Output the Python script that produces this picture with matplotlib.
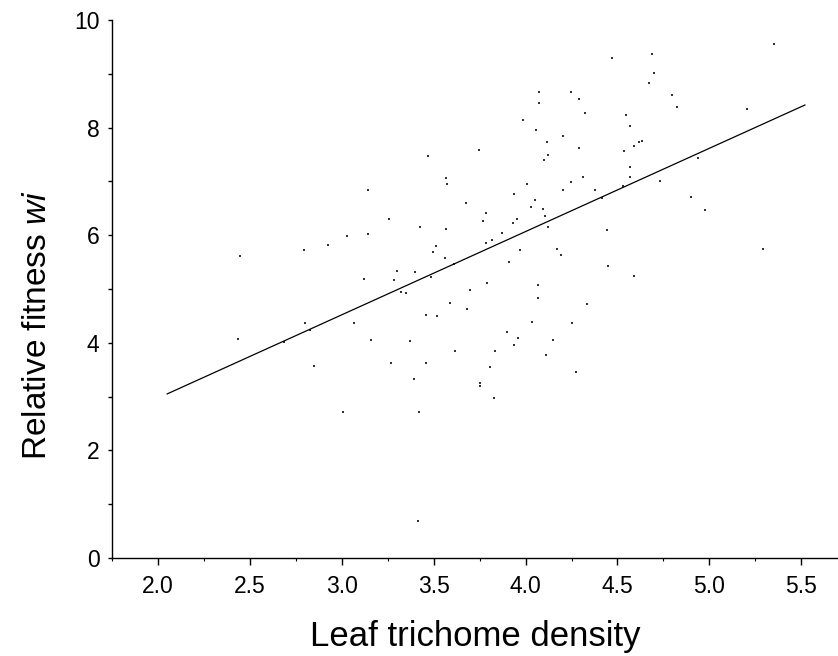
import matplotlib
matplotlib.use("Agg")
import matplotlib.pyplot as plt
from matplotlib.ticker import MultipleLocator

plt.rcParams["font.family"] = ["Liberation Sans", "DejaVu Sans"]
plt.rcParams["mathtext.fontset"] = "custom"
plt.rcParams["mathtext.rm"] = "Liberation Sans"
plt.rcParams["mathtext.it"] = "Liberation Sans:italic"

# leaf trichome density vs relative fitness
density = [
    3.145, 3.257, 3.027, 3.140, 2.924, 2.795, 2.446, 3.300, 3.123, 3.284,
    3.320, 3.348, 2.436, 2.800, 2.828, 2.686, 3.069, 3.161, 3.371, 2.850,
    3.268, 3.391, 3.005,
    4.074, 4.074, 4.246, 4.293, 4.326, 3.987, 4.058, 4.203, 4.118, 4.293,
    4.121, 4.100, 3.471, 3.746, 3.569, 3.574, 4.009, 4.246, 4.311, 4.203,
    4.380, 4.418, 3.676, 3.939, 4.053, 4.031, 4.096, 4.107, 3.783, 3.768,
    3.929, 3.951, 4.123, 3.424, 3.569, 3.870, 3.514, 3.495, 3.783, 3.817,
    3.971, 4.170, 4.192, 3.564, 3.612, 3.909, 3.397, 3.484, 3.790, 4.069,
    3.697, 4.069, 4.333, 3.587, 3.681, 3.457, 3.516, 4.036, 4.252, 3.897,
    3.957, 3.935, 4.148, 3.618, 3.833, 4.112, 3.457, 3.806, 4.273, 3.752,
    3.752, 3.828, 3.418, 3.413,
    5.353, 4.471, 4.686, 4.697, 4.670, 4.799, 4.826, 5.203, 4.547, 4.569,
    4.618, 4.634, 4.591, 4.536, 4.940, 4.569, 4.569, 4.730, 4.531, 4.902,
    4.977, 4.444, 5.293, 4.449, 4.591,
]
fitness = [
    6.84, 6.31, 5.99, 6.03, 5.81, 5.72, 5.61, 5.33, 5.19, 5.17,
    4.95, 4.93, 4.07, 4.36, 4.23, 4.01, 4.36, 4.05, 4.03, 3.56,
    3.62, 3.33, 2.71,
    8.67, 8.45, 8.66, 8.54, 8.27, 8.14, 7.96, 7.85, 7.74, 7.63,
    7.50, 7.40, 7.47, 7.59, 7.06, 6.95, 6.95, 6.98, 7.08, 6.84,
    6.84, 6.70, 6.60, 6.77, 6.65, 6.52, 6.49, 6.36, 6.41, 6.26,
    6.23, 6.30, 6.16, 6.16, 6.12, 6.05, 5.79, 5.69, 5.86, 5.92,
    5.73, 5.75, 5.64, 5.57, 5.46, 5.51, 5.32, 5.22, 5.11, 5.08,
    4.98, 4.83, 4.72, 4.74, 4.62, 4.52, 4.50, 4.39, 4.37, 4.21,
    4.08, 3.95, 4.05, 3.84, 3.84, 3.77, 3.62, 3.55, 3.46, 3.25,
    3.20, 2.98, 2.71, 0.69,
    9.55, 9.29, 9.37, 9.02, 8.83, 8.60, 8.38, 8.34, 8.23, 8.03,
    7.73, 7.75, 7.65, 7.57, 7.44, 7.26, 7.08, 7.00, 6.91, 6.71,
    6.47, 6.10, 5.74, 5.43, 5.24,
]

# fitted regression line end points
fit_x = [2.05, 5.52]
fit_y = [3.05, 8.42]

fig = plt.figure(figsize=(8.38, 6.56), dpi=100)
ax = fig.add_axes([0.1337, 0.1494, 0.8663, 0.8201])

ax.plot(density, fitness, "s", color="#333333", markersize=1.6, markeredgewidth=0)
ax.plot(fit_x, fit_y, color="black", lw=0.9)

ax.set_xlim(1.75, 5.70)
ax.set_ylim(0, 10)
ax.xaxis.set_major_locator(MultipleLocator(0.5))
ax.xaxis.set_minor_locator(MultipleLocator(0.25))
ax.yaxis.set_major_locator(MultipleLocator(2))
ax.yaxis.set_minor_locator(MultipleLocator(1))
ax.xaxis.set_major_formatter(plt.FuncFormatter(lambda v, p: f"{v:.1f}"))

for s in ("top", "right"):
    ax.spines[s].set_visible(False)
for s in ("left", "bottom"):
    ax.spines[s].set_linewidth(1.0)
ax.tick_params(axis="x", which="major", length=5, width=1, labelsize=16.5, pad=7)
ax.tick_params(axis="x", which="minor", length=2.5, width=0.8)
ax.tick_params(axis="y", which="both", length=3, width=1, labelsize=16.5, pad=6)

ax.set_xlabel("Leaf trichome density", fontsize=25, labelpad=16)
ax.set_ylabel(r"Relative fitness $\mathit{wi}$", fontsize=24)
ax.yaxis.set_label_coords(-0.081, 0.433)

fig.savefig("out.png", dpi=100)
